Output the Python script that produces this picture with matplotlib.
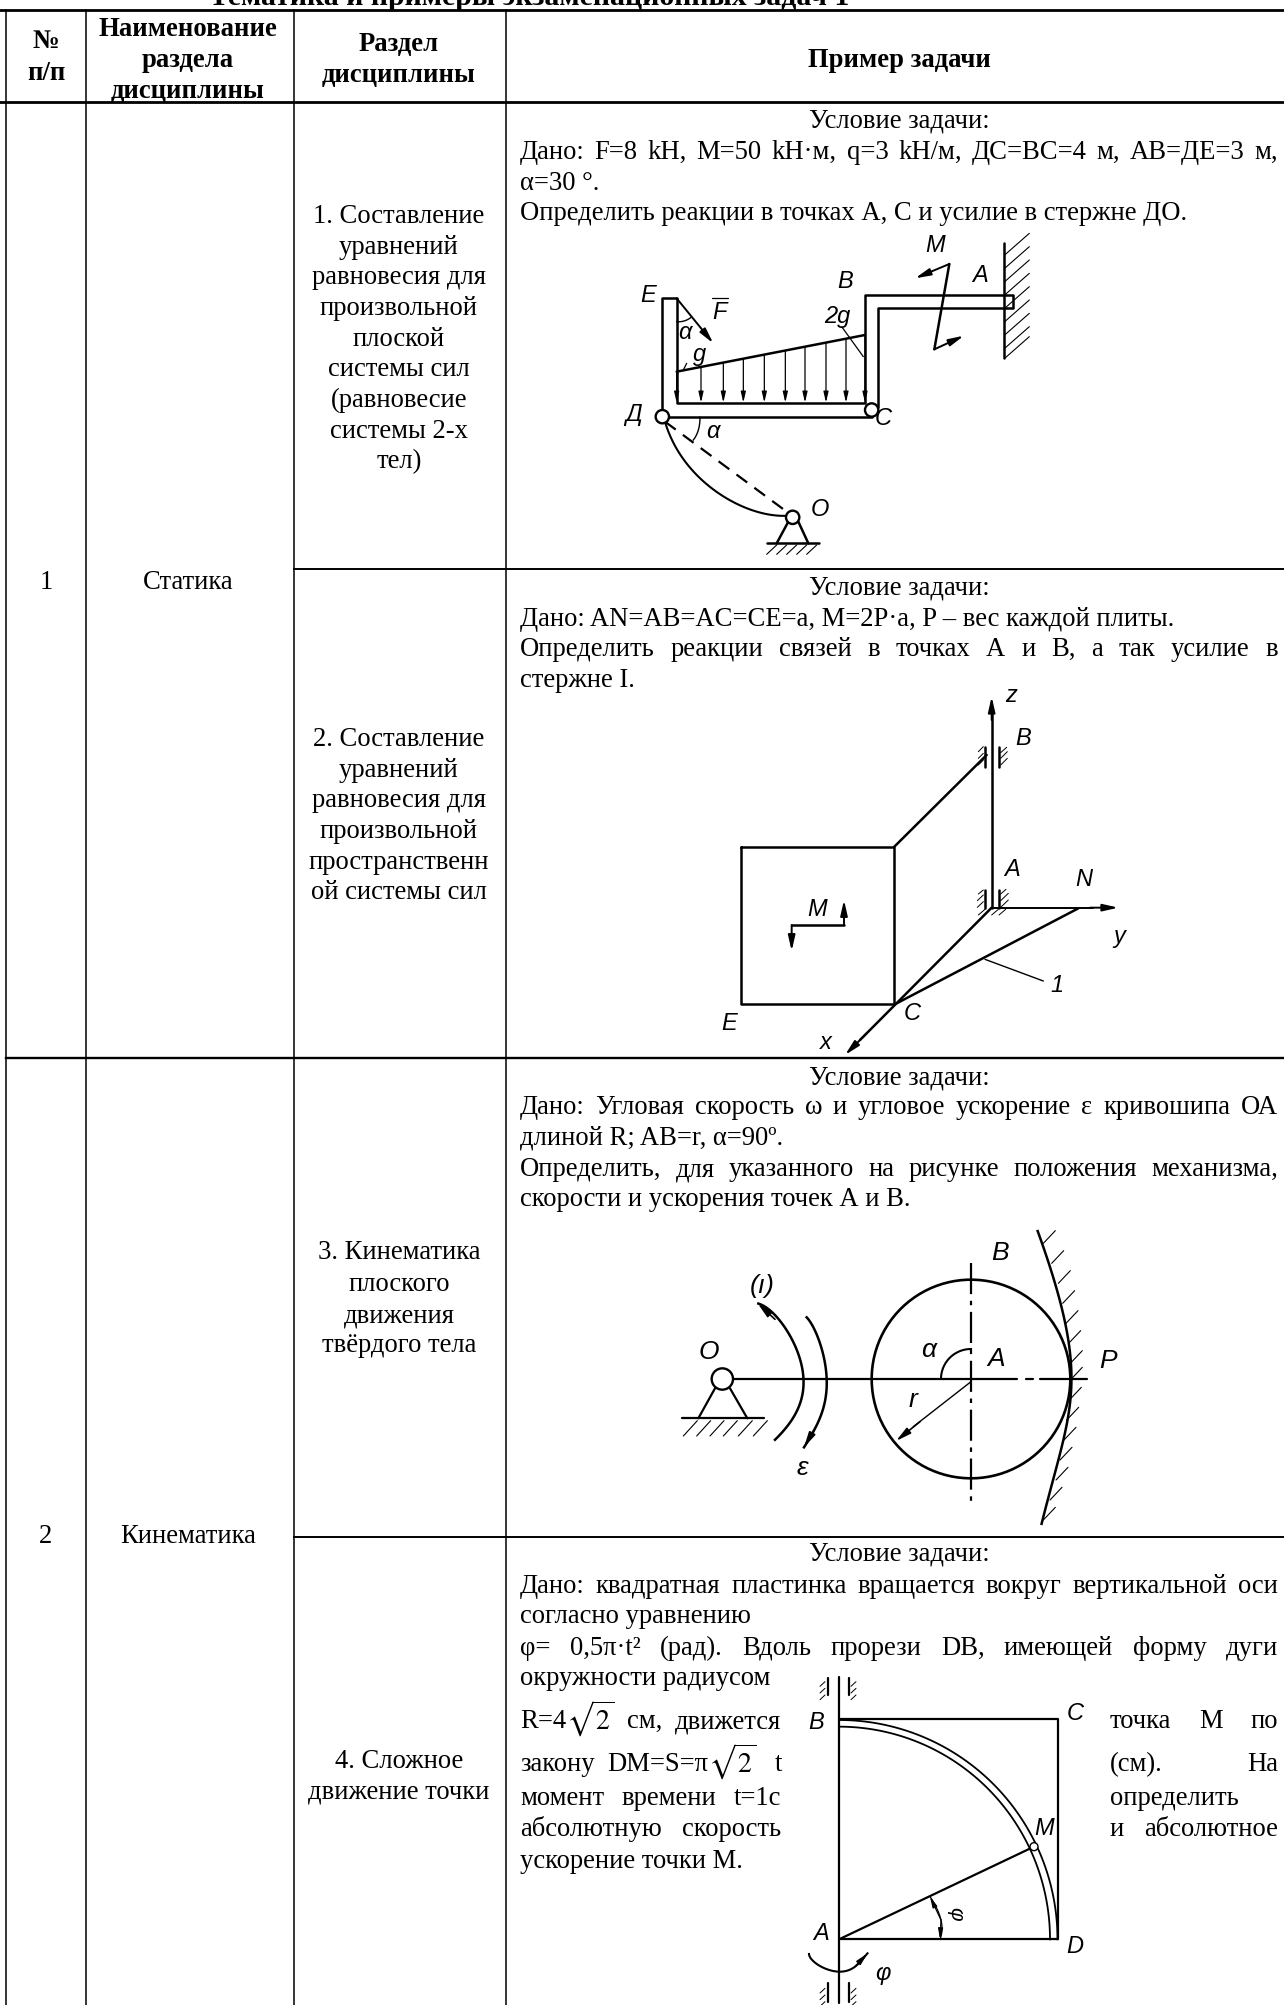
import numpy as np
import matplotlib
matplotlib.use("Agg")
import matplotlib.pyplot as plt
from matplotlib.patches import Ellipse

plt.rcParams['font.family'] = ['Liberation Serif', 'DejaVu Serif']
plt.rcParams['mathtext.fontset'] = 'stix'

W, H = 1284, 2005
FS = 19.2      # body text size
LW = 1.5

# --- table text ---
title = "Тематика и примеры экзаменационных задач 1"

col_x = [6, 86, 294, 506]
col_mid = [46, 188, 399, 899]
head_bottom = 102
row_seps = [569, 1058, 1537]

num_head = ["№", "п/п"]
num_head_y = [40, 72]
name_head = ["Наименование", "раздела", "дисциплины"]
name_head_y = [28, 59, 90]
part_head = ["Раздел", "дисциплины"]
part_head_y = [43, 74]
task_head = "Пример задачи"
task_head_y = 59

numbers = ["1", "2"]
sections = ["Статика", "Кинематика"]
sections_y = [581, 1535]

part1 = ["1. Составление", "уравнений", "равновесия для", "произвольной", "плоской",
         "системы сил", "(равновесие", "системы 2-х", "тел)"]
part1_y = [215, 246, 276, 307, 338, 368, 399, 430, 460]
part2 = ["2. Составление", "уравнений", "равновесия для", "произвольной",
         "пространственн", "ой системы сил"]
part2_y = [738, 769, 799, 830, 861, 891]
part3 = ["3. Кинематика", "плоского", "движения", "твёрдого тела"]
part3_y = [1251, 1283, 1314, 1344]
part4 = ["4. Сложное", "движение точки"]
part4_y = [1760, 1791]

cond = "Условие задачи:"
cond_y = [119, 586, 1076, 1553]

# (text, y, justified)
task1 = [("Дано: F=8 kH, M=50 kH·м, q=3 kH/м, ДС=ВС=4 м, АВ=ДЕ=3 м,", 151, True),
         ("α=30 °.", 182, False),
         ("Определить реакции в точках А, С и усилие в стержне ДО.", 212, False)]
task2 = [("Дано: AN=AB=AC=CE=a, M=2P·a, P – вес каждой плиты.", 618, False),
         ("Определить реакции связей в точках А и В, а так усилие в", 648, True),
         ("стержне I.", 679, False)]
task3 = [("Дано: Угловая скорость ω и угловое ускорение ε кривошипа ОА", 1106, True),
         ("длиной R; AB=r, α=90º.", 1137, False),
         ("Определить, для указанного на рисунке положения механизма,", 1168, True),
         ("скорости и ускорения точек А и В.", 1198, False)]
task4 = [("Дано: квадратная пластинка вращается вокруг вертикальной оси", 1585, True),
         ("согласно уравнению", 1615, False),
         ("φ= 0,5π·t² (рад). Вдоль прорези DB, имеющей форму дуги", 1647, True),
         ("окружности радиусом", 1677, False)]
task4_left = [("момент времени t=1с", 1797, True),
              ("абсолютную скорость", 1828, True),
              ("ускорение точки М.", 1860, False)]
task4_right = [("точка М по", 1720, True),
               ("(см). На", 1763, True),
               ("определить", 1797, False),
               ("и абсолютное", 1828, True)]
# pieces placed by hand around the square root signs
task4_pieces = [("R=4", 520, 1720), ("см,", 627, 1720), ("движется", 675, 1720),
                ("закону", 520, 1763), ("DM=S=π", 607, 1763), ("t", 775, 1763)]
task4_roots = [(566, 1722), (708, 1765)]

# --- drawing 1, statics frame (units: crop px) ---
d1_box = (600, 220, 440, 350, 1320, 1050)
d1_lines = [[(187, 590), (187, 235), (230, 235), (230, 548), (795, 548), (795, 225), (1240, 225),
             (1240, 265), (835, 265), (835, 560)],
            [(187, 590), (815, 590)],
            [(230, 455), (795, 345)],
            [(1212, 70), (1212, 415)],
            [(1048, 132), (1003, 388)],
            [(565, 905), (530, 970)], [(595, 905), (625, 970)], [(500, 970), (658, 970)]]
d1_thin = [[(725, 320), (790, 410)], [(260, 430), (250, 450)], [(335, 234), (385, 234)]]
d1_curve = [(195, 605), (225, 680), (270, 740), (330, 800), (400, 850), (480, 875), (560, 888)]
d1_arc1 = [(230, 305), (252, 303), (272, 293)]
d1_arc2 = [(300, 592), (295, 630), (280, 660)]
d1_dash = [(195, 605), (560, 875)]
d1_load_x = [230, 303, 370, 430, 493, 556, 615, 678, 738, 795]
d1_circles = [(815, 570, 20), (187, 590, 20), (578, 892, 20)]
d1_arrows = [((230, 235), (340, 370)), ((1048, 132), (945, 175)), ((1003, 388), (1092, 347))]
d1_wall_y = [105, 145, 185, 225, 265, 305, 345, 385, 415]
d1_ground_x = [500, 530, 560, 590, 620]
d1_labels = [("E", 145, 228), ("F", 358, 278), ("α", 255, 338), ("g", 298, 402), ("B", 735, 185),
             ("2g", 712, 288), ("M", 1005, 78), ("A", 1140, 165), ("Д", 100, 585), ("α", 338, 635),
             ("C", 850, 595), ("O", 660, 868)]

# --- drawing 2, plate in space ---
d2_box = (700, 670, 460, 400, 1380, 1200)
d2_lines = [[(122, 530), (583, 530), (583, 1003), (122, 1003), (122, 530)],
            [(583, 530), (860, 255)],
            [(875, 713), (875, 130)],
            [(855, 230), (855, 290)], [(897, 230), (897, 290)],
            [(855, 660), (855, 713)], [(897, 660), (897, 713)],
            [(590, 1000), (1135, 715)],
            [(875, 713), (480, 1110)],
            [(275, 765), (432, 765)]]
d2_thin = [[(855, 868), (1030, 933)]]
d2_arrows = [((875, 150), (875, 80)), ((1170, 713), (1255, 713)), ((500, 1090), (435, 1155)),
             ((432, 765), (432, 690)), ((275, 765), (275, 843))]
d2_axis_y = [(875, 713), (1180, 713)]
d2_hatch = [[(835, 285), (850, 270)], [(835, 265), (850, 250)], [(835, 245), (850, 230)],
            [(902, 285), (922, 265)], [(902, 265), (922, 245)], [(902, 248), (920, 232)],
            [(832, 712), (850, 695)], [(832, 692), (850, 675)], [(835, 672), (850, 660)],
            [(902, 712), (925, 690)], [(902, 692), (925, 670)], [(902, 672), (918, 658)],
            [(835, 735), (855, 718)], [(875, 735), (895, 718)], [(897, 735), (917, 718)]]
d2_labels = [("z", 932, 75), ("B", 970, 205), ("A", 935, 600), ("N", 1150, 628), ("y", 1258, 800),
             ("M", 350, 718), ("1", 1070, 945), ("C", 637, 1030), ("E", 88, 1062), ("x", 378, 1118)]

# --- drawing 3, crank mechanism ---
d3_box = (660, 1210, 500, 320, 1500, 960)
d3_center = (933, 507)
d3_radius = 298
d3_lines = [[(220, 507), (1070, 507)], [(1098, 507), (1118, 507)], [(1140, 507), (1280, 507)],
            [(165, 535), (115, 625)], [(210, 535), (262, 625)], [(65, 625), (312, 625)]]
d3_vert = [(933, 160), (933, 880)]
d3_omega = [(295, 280), (355, 330), (405, 400), (430, 507), (415, 590), (345, 690)]
d3_eps = [(440, 322), (480, 400), (500, 507), (485, 610), (432, 712)]
d3_wall = [(1133, 70), (1190, 210), (1225, 420), (1232, 507), (1225, 600), (1190, 790), (1145, 935)]
d3_wall_hatch = [(1150, 100), (1175, 160), (1195, 220), (1208, 280), (1218, 340), (1226, 400), (1231, 460),
                 (1231, 510), (1228, 570), (1220, 630), (1212, 690), (1200, 750), (1188, 810), (1170, 870), (1150, 930)]
d3_ground_x = [70, 110, 150, 190, 235, 280]
d3_arrows = [((345, 328), (293, 280)), ((465, 655), (432, 712)), ((780, 635), (708, 693))]
d3_r_line = [(933, 515), (760, 650)]
d3_labels = [("B", 1020, 130), ("(ı)", 308, 228), ("O", 145, 425), ("α", 805, 420), ("A", 1008, 447),
             ("P", 1345, 452), ("r", 760, 570), ("ε", 428, 775)]

# --- drawing 4, square plate (crop is stretched 2x / 3x) ---
d4_box = (500, 1530, 784, 475, 1568, 1425)
d4_lines = [[(678, 440), (678, 1420)],
            [(678, 568), (1115, 568), (1115, 1228), (678, 1228)],
            [(678, 1228), (1068, 950)],
            [(655, 445), (655, 495)], [(698, 445), (698, 495)],
            [(655, 1360), (655, 1415)], [(698, 1360), (698, 1415)]]
d4_inner = (678, 1228, 422, 638)
d4_outer = (678, 1228, 437, 658)
d4_rot = [(618, 1272), (640, 1308), (678, 1325), (710, 1310), (735, 1270)]
d4_ang = [(880, 1228), (882, 1170), (860, 1100)]
d4_labels = [("B", 632, 578), ("C", 1150, 550), ("M", 1088, 895), ("A", 642, 1212), ("D", 1150, 1250),
             ("φ", 765, 1330)]


fig = plt.figure(figsize=(W / 100, H / 100), dpi=100, facecolor="white")
ax = fig.add_axes([0, 0, 1, 1])
ax.set_xlim(0, W)
ax.set_ylim(H, 0)
ax.axis("off")
rend = fig.canvas.get_renderer()


def put(s, x, y, ha="center", bold=False):
    return ax.text(x, y + 8, s, ha=ha, va="baseline", fontsize=FS, color="black",
                   fontweight="bold" if bold else "normal")


def justified(s, x0, x1, y):
    words = s.split()
    arts = [put(w, x0, y, ha="left") for w in words]
    inv = ax.transData.inverted()
    widths = []
    for a in arts:
        bb = a.get_window_extent(rend)
        widths.append(inv.transform((bb.x1, 0))[0] - inv.transform((bb.x0, 0))[0])
    gap = (x1 - x0 - sum(widths)) / max(len(words) - 1, 1)
    x = x0
    for a, w in zip(arts, widths):
        a.set_x(x)
        x += w + gap


def task_block(lines, x0, x1):
    for s, y, just in lines:
        if just:
            justified(s, x0, x1, y)
        else:
            put(s, x0, y, ha="left")


def root(x, y):
    ax.text(x, y + 8, r"$\sqrt{2}$", fontsize=FS + 1, ha="left", va="baseline", color="black")


# title is cut by the page edge, like in the scan
ax.text(529, 5, title, ha="center", va="baseline", fontsize=21.5, fontweight="bold", color="black", clip_on=True)

# table lines
ax.plot([0, W], [10, 10], color="black", lw=2.0)
ax.plot([0, W], [head_bottom, head_bottom], color="black", lw=2.0)
for x in col_x:
    ax.plot([x, x], [10, H], color="black", lw=1.1)
ax.plot([col_x[2], W], [row_seps[0], row_seps[0]], color="black", lw=1.4)
ax.plot([col_x[0], W], [row_seps[1], row_seps[1]], color="black", lw=1.7)
ax.plot([col_x[2], W], [row_seps[2], row_seps[2]], color="black", lw=1.4)

# header
for s, y in zip(num_head, num_head_y):
    put(s, col_mid[0], y, bold=True)
for s, y in zip(name_head, name_head_y):
    put(s, col_mid[1], y, bold=True)
for s, y in zip(part_head, part_head_y):
    put(s, col_mid[2], y, bold=True)
put(task_head, col_mid[3], task_head_y, bold=True)

for n, s, y in zip(numbers, sections, sections_y):
    put(n, col_mid[0], y)
    put(s, col_mid[1], y)

for part, ys in [(part1, part1_y), (part2, part2_y), (part3, part3_y), (part4, part4_y)]:
    for s, y in zip(part, ys):
        put(s, col_mid[2], y)

for y in cond_y:
    put(cond, col_mid[3], y)

task_block(task1, 520, 1278)
task_block(task2, 520, 1278)
task_block(task3, 520, 1278)
task_block(task4, 520, 1278)
task_block(task4_left, 520, 781)
task_block(task4_right, 1110, 1278)
for s, x, y in task4_pieces:
    put(s, x, y, ha="left")
for x, y in task4_roots:
    root(x, y)


# --- drawings ---
def sub_axes(box):
    x, y, w, h, zw, zh = box
    a = fig.add_axes([x / W, 1 - (y + h) / H, w / W, h / H])
    a.set_xlim(0, zw)
    a.set_ylim(zh, 0)
    a.axis("off")
    a.patch.set_alpha(0)
    return a


def poly(a, pts, lw=LW, **kw):
    xs = [p[0] for p in pts]
    ys = [p[1] for p in pts]
    a.plot(xs, ys, color="black", lw=lw, solid_capstyle="round", **kw)


def curve(a, pts, lw=LW):
    # smooth through the read points
    pts = np.array(pts, float)
    t = np.arange(len(pts))
    tt = np.linspace(0, len(pts) - 1, 80)
    cx = np.polyval(np.polyfit(t, pts[:, 0], min(4, len(pts) - 1)), tt)
    cy = np.polyval(np.polyfit(t, pts[:, 1], min(4, len(pts) - 1)), tt)
    a.plot(cx, cy, color="black", lw=lw)


def arrow(a, p0, p1, size=11, lw=LW):
    a.annotate("", xy=p1, xytext=p0,
               arrowprops=dict(arrowstyle="-|>,head_width=0.16,head_length=0.7", color="black", lw=lw,
                               mutation_scale=size, shrinkA=0, shrinkB=0))


def label(a, s, x, y, size=17):
    a.text(x, y, s, ha="center", va="center", fontsize=size, style="italic",
           family=["Liberation Sans", "DejaVu Sans"], color="black", stretch="condensed")


def circle(a, cx, cy, r):
    a.add_patch(Ellipse((cx, cy), 2 * r, 2 * r, fc="white", ec="black", lw=1.7, zorder=5))


# drawing 1
a1 = sub_axes(d1_box)
for pts in d1_lines:
    poly(a1, pts, lw=1.8)
for pts in d1_thin:
    poly(a1, pts, lw=0.9)
curve(a1, d1_curve)
curve(a1, d1_arc1, lw=1.0)
curve(a1, d1_arc2, lw=1.0)
poly(a1, d1_dash, lw=1.6, ls=(0, (6, 4)))
x0, y0 = d1_lines[2][0]
x1, y1 = d1_lines[2][1]
for x in d1_load_x:
    top = y0 + (y1 - y0) * (x - x0) / (x1 - x0)
    arrow(a1, (x, top), (x, 548), size=9, lw=0.9)
for c in d1_circles:
    circle(a1, *c)
for p0, p1 in d1_arrows:
    arrow(a1, p0, p1, size=13, lw=1.4)
for y in d1_wall_y:
    poly(a1, [(1214, y), (1288, y - 65)], lw=0.8)
for x in d1_ground_x:
    poly(a1, [(x, 1003), (x + 30, 975)], lw=0.8)
for s, x, y in d1_labels:
    label(a1, s, x, y)

# drawing 2
a2 = sub_axes(d2_box)
for pts in d2_lines:
    poly(a2, pts, lw=1.8)
for pts in d2_thin:
    poly(a2, pts, lw=1.0)
poly(a2, d2_axis_y, lw=1.4)
for p0, p1 in d2_arrows:
    arrow(a2, p0, p1, size=13, lw=1.4)
for pts in d2_hatch:
    poly(a2, pts, lw=0.7)
for s, x, y in d2_labels:
    label(a2, s, x, y)

# drawing 3
a3 = sub_axes(d3_box)
th = np.linspace(0, 2 * np.pi, 200)
a3.plot(d3_center[0] + d3_radius * np.cos(th), d3_center[1] + d3_radius * np.sin(th), color="black", lw=1.9)
for pts in d3_lines:
    poly(a3, pts, lw=1.6)
poly(a3, d3_vert, lw=1.6, ls=(0, (14, 3, 2, 3)))
curve(a3, d3_omega, lw=1.8)
curve(a3, d3_eps, lw=1.8)
curve(a3, d3_wall, lw=1.8)
th = np.linspace(np.pi, 1.5 * np.pi, 40)
a3.plot(d3_center[0] + 90 * np.cos(th), d3_center[1] + 90 * np.sin(th), color="black", lw=1.5)
poly(a3, d3_r_line, lw=1.0)
for p0, p1 in d3_arrows:
    arrow(a3, p0, p1, size=13, lw=1.2)
circle(a3, 187, 507, 32)
for x, y in d3_wall_hatch:
    poly(a3, [(x, y), (x + 36, y - 38)], lw=0.8)
for x in d3_ground_x:
    poly(a3, [(x, 678), (x + 42, 632)], lw=0.8)
for s, x, y in d3_labels:
    label(a3, s, x, y, size=19)

# drawing 4
a4 = sub_axes(d4_box)
for pts in d4_lines:
    poly(a4, pts, lw=1.6)
for cx, cy, rx, ry in [d4_inner, d4_outer]:
    th = np.linspace(0, np.pi / 2, 100)
    a4.plot(cx + rx * np.cos(th), cy - ry * np.sin(th), color="black", lw=1.3)
curve(a4, d4_rot)
arrow(a4, d4_rot[-2], d4_rot[-1], size=10, lw=1.1)
curve(a4, d4_ang, lw=0.9)
arrow(a4, d4_ang[1], d4_ang[2], size=9, lw=0.9)
arrow(a4, d4_ang[1], d4_ang[0], size=9, lw=0.9)
a4.add_patch(Ellipse((1068, 950), 16, 24, fc="white", ec="black", lw=1.0, zorder=5))
for y in [455, 475, 495, 1375, 1395, 1415]:
    poly(a4, [(650, y), (640, y + 14)], lw=0.7)
    poly(a4, [(712, y), (702, y + 14)], lw=0.7)
for s, x, y in d4_labels:
    label(a4, s, x, y)
a4.text(912, 1150, "φ", rotation=-90, ha="center", va="center", fontsize=15, style="italic", color="black",
        family=["Liberation Sans", "DejaVu Sans"])

fig.savefig("out.png", dpi=100, facecolor="white")
